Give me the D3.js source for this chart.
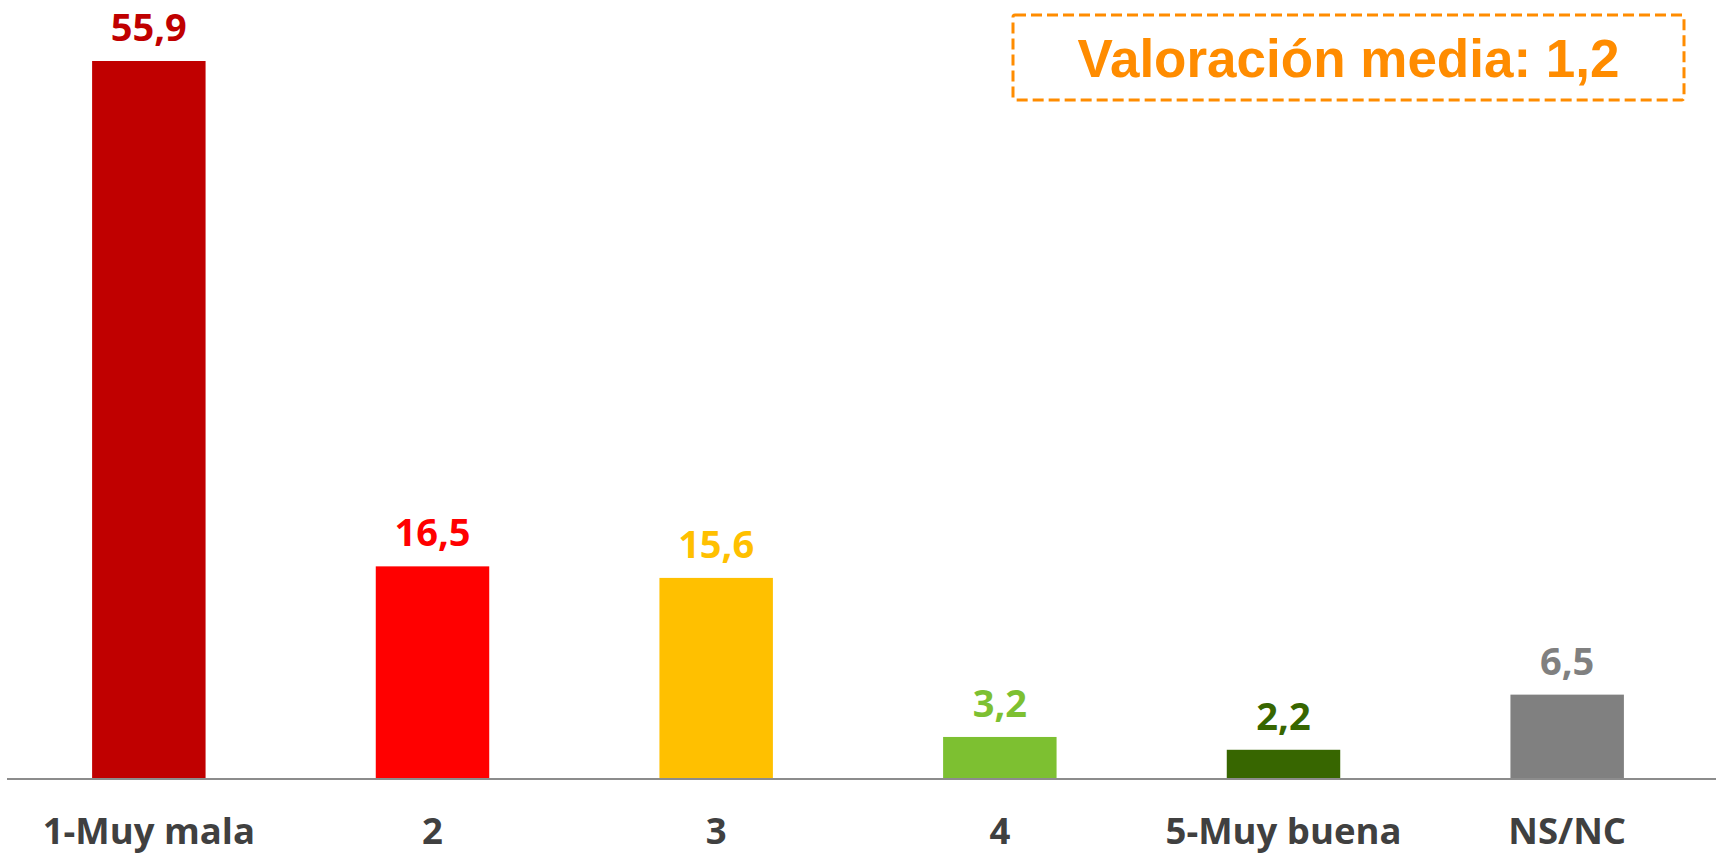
<!DOCTYPE html>
<html>
<head>
<meta charset="utf-8">
<script src="https://cdn.jsdelivr.net/npm/d3@7"></script>
<style>
  body { margin: 0; background: #fff; }
  svg { display: block; }
  .tick text { font-family: 'Open Sans', sans-serif; font-weight: 700; font-size: 36.5px; fill: #404040; }
  .value { font-family: 'Open Sans', sans-serif; font-weight: 700; font-size: 38px; }
</style>
</head>
<body>
<div id="chart"></div>
<script>
const categories = ['1-Muy mala', '2', '3', '4', '5-Muy buena', 'NS/NC']
const values = [55.9, 16.5, 15.6, 3.2, 2.2, 6.5]
const colors = ['#C00000', '#FF0000', '#FFC000', '#7DC031', '#376600', '#808080']
const meanText = 'Valoración media: 1,2'

const width = 1716
const height = 855
const baseline = 778

const svg = d3.select('#chart')
  .append('svg')
  .attr('width', width)
  .attr('height', height)

const x = d3.scaleBand()
  .domain(categories)
  .range([7, 1709])
  .paddingInner(0.6)
  .paddingOuter(0.3)

const y = d3.scaleLinear()
  .domain([0, 55.9])
  .range([baseline, 61])

const fmt = v => d3.format('.1f')(v).replace('.', ',')

// bars
svg.selectAll('rect.bar')
  .data(values)
  .enter()
  .append('rect')
  .classed('bar', true)
  .attr('x', (d, i) => x(categories[i]))
  .attr('y', d => y(d))
  .attr('width', x.bandwidth())
  .attr('height', d => baseline - y(d))
  .style('fill', (d, i) => colors[i])

// value labels
svg.selectAll('text.value')
  .data(values)
  .enter()
  .append('text')
  .classed('value', true)
  .attr('x', (d, i) => x(categories[i]) + x.bandwidth() / 2)
  .attr('y', d => y(d) - 20)
  .attr('text-anchor', 'middle')
  .style('fill', (d, i) => colors[i])
  .text(d => fmt(d))

// baseline
svg.append('line')
  .attr('x1', 7)
  .attr('x2', width)
  .attr('y1', baseline + 1)
  .attr('y2', baseline + 1)
  .attr('stroke', '#8c8c8c')
  .attr('stroke-width', 2)

// category axis, no domain or ticks
const axis = svg.append('g')
  .attr('transform', `translate(0, ${baseline})`)
  .call(d3.axisBottom(x).tickSize(0).tickPadding(40))
axis.select('.domain').remove()

// mean box
const box = svg.append('g')
box.append('rect')
  .attr('x', 1013)
  .attr('y', 15)
  .attr('width', 671)
  .attr('height', 85)
  .attr('rx', 2)
  .attr('fill', 'none')
  .attr('stroke', '#FF8C00')
  .attr('stroke-width', 3)
  .attr('stroke-dasharray', '11,5')
box.append('text')
  .attr('x', 1348.5)
  .attr('y', 77)
  .attr('text-anchor', 'middle')
  .style('font-family', "'Liberation Sans', Arial, sans-serif")
  .style('font-weight', 700)
  .style('font-size', '53px')
  .style('fill', '#FF8C00')
  .text(meanText)
</script>
</body>
</html>
